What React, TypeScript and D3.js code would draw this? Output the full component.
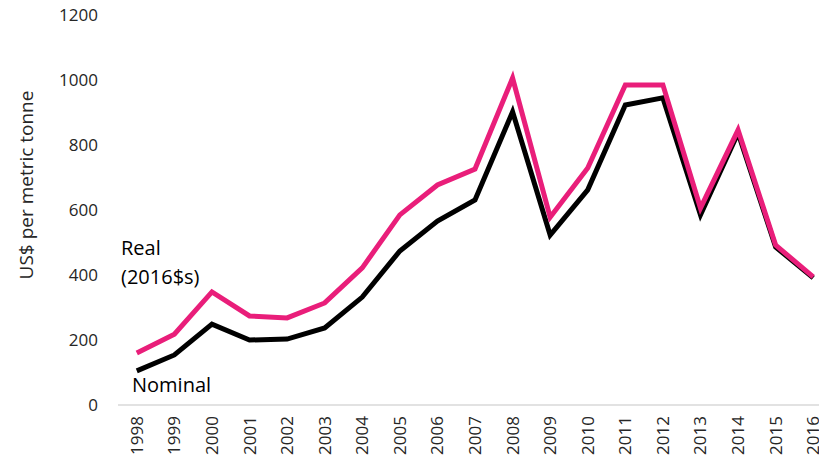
import React, { useRef, useEffect } from "react";
import { select, scaleBand, scaleLinear, line, axisLeft } from "d3";

const years = [
  "1998", "1999", "2000", "2001", "2002", "2003", "2004", "2005", "2006", "2007",
  "2008", "2009", "2010", "2011", "2012", "2013", "2014", "2015", "2016",
];
const realValues = [
  160, 218, 348, 274, 268, 314, 422, 585, 677, 726,
  1006, 578, 729, 985, 985, 606, 846, 492, 394,
];
const nominalValues = [
  105, 154, 249, 200, 203, 237, 332, 474, 566, 631,
  902, 523, 662, 923, 945, 585, 837, 486, 391,
];
const yTicks = [0, 200, 400, 600, 800, 1000, 1200];

const W = 819;
const H = 464;
const FONT = "'Open Sans', 'DejaVu Sans', sans-serif";

const App: React.FC = () => {
  const svgRef = useRef<SVGSVGElement>(null);

  useEffect(() => {
    const svg = select(svgRef.current);
    svg.selectAll("*").remove();

    // scales
    const x = scaleBand<string>().domain(years).range([118, 832]);
    const y = scaleLinear().domain([0, 1200]).range([405, 15]);
    const cx = (d: string) => x(d)! + x.bandwidth() / 2;

    // y axis: labels only
    const yAxisG = svg
      .append("g")
      .attr("transform", "translate(98,0)")
      .call(
        axisLeft(y)
          .tickValues(yTicks)
          .tickFormat((d) => String(d))
          .tickSize(0)
          .tickPadding(0)
      );
    yAxisG.select(".domain").remove();
    yAxisG
      .selectAll("text")
      .attr("fill", "#262626")
      .style("font-family", FONT)
      .style("font-size", "17px");

    // x axis line
    svg
      .append("line")
      .attr("x1", x.range()[0])
      .attr("x2", x.range()[1])
      .attr("y1", y(0))
      .attr("y2", y(0))
      .attr("stroke", "#d9d9d9")
      .attr("stroke-width", 1.5);

    // x labels rotated
    svg
      .append("g")
      .selectAll("text")
      .data(years)
      .join("text")
      .attr("transform", (d) => `translate(${cx(d) + 6},416) rotate(-90)`)
      .attr("text-anchor", "end")
      .attr("fill", "#262626")
      .style("font-family", FONT)
      .style("font-size", "17px")
      .text((d) => d);

    // y title
    svg
      .append("text")
      .attr("transform", "translate(33,185) rotate(-90)")
      .attr("text-anchor", "middle")
      .attr("fill", "#262626")
      .style("font-family", FONT)
      .style("font-size", "19px")
      .text("US$ per metric tonne");

    // lines
    const path = line<number>()
      .x((_, i) => cx(years[i]))
      .y((d) => y(d));

    svg
      .append("path")
      .datum(nominalValues)
      .attr("d", path)
      .attr("fill", "none")
      .attr("stroke", "#000000")
      .attr("stroke-width", 5)
      .attr("stroke-linejoin", "miter");

    svg
      .append("path")
      .datum(realValues)
      .attr("d", path)
      .attr("fill", "none")
      .attr("stroke", "#E91E7A")
      .attr("stroke-width", 5)
      .attr("stroke-linejoin", "miter");

    // annotations
    const labels = [
      { text: "Real", x: 121, y: 255 },
      { text: "(2016$s)", x: 121, y: 284 },
      { text: "Nominal", x: 132, y: 392 },
    ];
    svg
      .append("g")
      .selectAll("text")
      .data(labels)
      .join("text")
      .attr("x", (d) => d.x)
      .attr("y", (d) => d.y)
      .attr("fill", "#000")
      .style("font-family", FONT)
      .style("font-size", "20px")
      .text((d) => d.text);
  }, []);

  return (
    <svg
      ref={svgRef}
      width={W}
      height={H}
      style={{ position: "absolute", left: 0, top: 0, background: "#fff" }}
    />
  );
};

export default App;
